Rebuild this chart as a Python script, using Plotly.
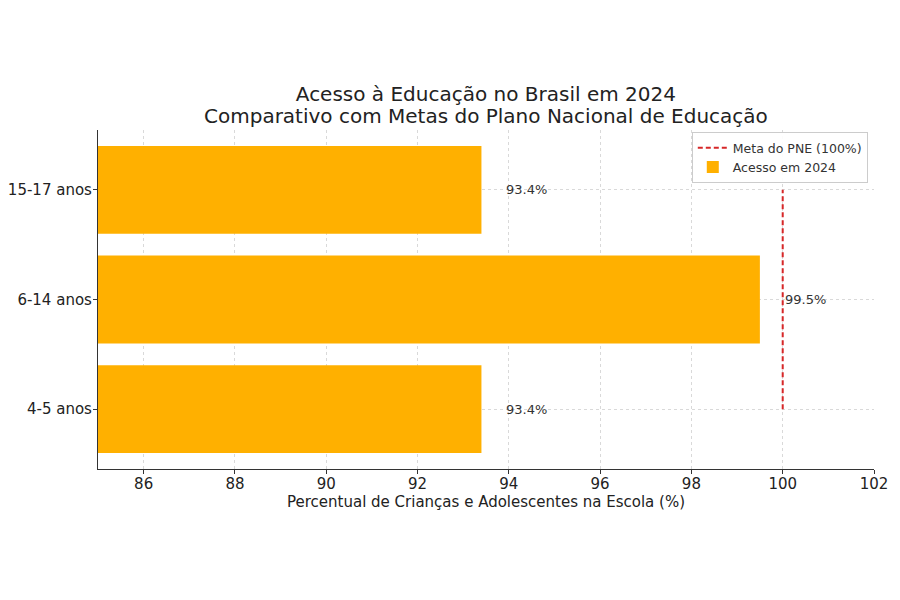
#!/usr/bin/env python3
"""
Acesso à educação no Brasil em 2024 - barras horizontais com meta do PNE.
"""

import plotly.graph_objects as go

# ---------------- Dados ----------------
faixas = ["4-5 anos", "6-14 anos", "15-17 anos"]
acesso_2024 = [93.4, 99.5, 93.4]
meta_pne = 100
x_ticks = [86, 88, 90, 92, 94, 96, 98, 100, 102]

FONT = "DejaVu Sans"
BAR_COLOR = "#FFB000"
GRID = "#d9d9d9"


def main():
    fig = go.Figure()

    # linha da meta (primeiro para aparecer no topo da legenda)
    fig.add_trace(go.Scatter(
        x=[meta_pne, meta_pne],
        y=[faixas[0], faixas[-1]],
        mode="lines",
        line=dict(color="#d62728", width=2, dash="5px,3px"),
        name="Meta do PNE (100%)"
    ))

    fig.add_trace(go.Bar(
        x=acesso_2024,
        y=faixas,
        orientation="h",
        width=0.8,
        marker_color=BAR_COLOR,
        marker_line_width=0,
        name="Acesso em 2024"
    ))

    # rótulos de valor, 0.5 à direita de cada barra
    for faixa, v in zip(faixas, acesso_2024):
        fig.add_annotation(
            x=v + 0.5, y=faixa,
            text=f"{v:.1f}%",
            showarrow=False,
            xanchor="left", yanchor="middle",
            font=dict(family=FONT, size=13, color="#333333")
        )

    # segunda linha do título
    fig.add_annotation(
        x=0.5, y=1.0413, xref="paper", yref="paper",
        text="Comparativo com Metas do Plano Nacional de Educação",
        showarrow=False,
        xanchor="center", yanchor="middle",
        font=dict(family=FONT, size=20, color="#222222")
    )

    fig.update_layout(
        width=900,
        height=600,
        margin=dict(l=90, r=34, t=122, b=139),
        paper_bgcolor="white",
        plot_bgcolor="white",
        font=dict(family=FONT, color="#222222"),
        title=dict(
            text="Acesso à Educação no Brasil em 2024",
            x=0.531,
            xanchor="center",
            y=0.857,
            yanchor="middle",
            font=dict(family=FONT, size=20, color="#222222")
        ),
        legend=dict(
            x=0.992,
            y=0.994,
            xanchor="right",
            yanchor="top",
            traceorder="normal",
            bgcolor="rgba(255,255,255,0.9)",
            bordercolor="#cccccc",
            borderwidth=1,
            font=dict(family=FONT, size=12.5, color="#333333"),
            itemwidth=30,
            tracegroupgap=0
        ),
        xaxis=dict(
            range=[85, 102],
            tickvals=x_ticks,
            showline=True,
            linecolor="#333333",
            linewidth=1.2,
            ticks="outside",
            ticklen=4,
            tickcolor="#333333",
            ticklabelstandoff=-3,
            tickfont=dict(family=FONT, size=15, color="#222222"),
            showgrid=True,
            gridcolor=GRID,
            griddash="dot",
            gridwidth=1,
            zeroline=False,
            title=dict(
                text="Percentual de Crianças e Adolescentes na Escola (%)",
                font=dict(family=FONT, size=15, color="#222222"),
                standoff=4
            )
        ),
        yaxis=dict(
            type="category",
            categoryorder="array",
            categoryarray=faixas,
            range=[-0.545, 2.545],
            automargin=False,
            showline=True,
            linecolor="#333333",
            linewidth=1.2,
            ticks="outside",
            ticklen=4,
            tickcolor="#333333",
            ticklabelstandoff=-2,
            tickfont=dict(family=FONT, size=15, color="#222222"),
            showgrid=True,
            gridcolor=GRID,
            griddash="dot",
            gridwidth=1,
            zeroline=False
        ),
        bargap=0.2
    )

    fig.write_html("out.html")


if __name__ == "__main__":
    main()
